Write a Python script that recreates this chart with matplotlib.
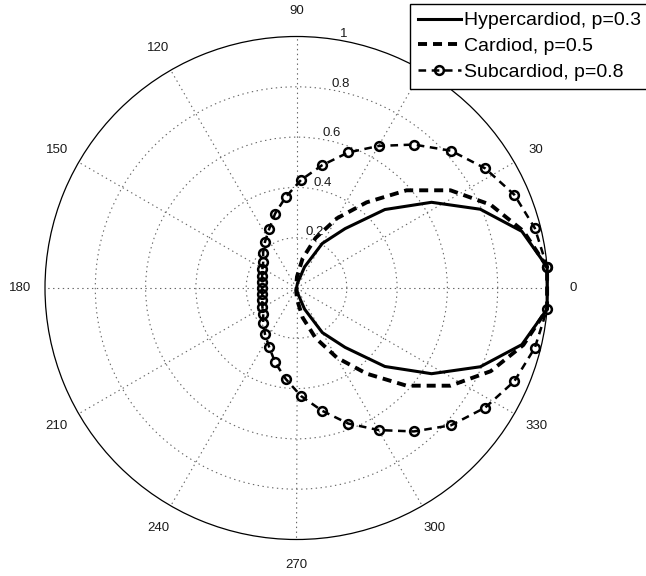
import numpy as np
import matplotlib.pyplot as plt

plt.rcParams['font.family'] = ['Liberation Sans', 'DejaVu Sans']
plt.rcParams['lines.scale_dashes'] = False

# sample angles in degrees
theta_deg = [4.8, 14.1, 23.2, 32.4, 41.6, 50.7, 59.9, 69.1, 78.3, 87.6,
             96.8, 106.0, 115.0, 124.4, 133.4, 142.0, 151.0, 160.5, 170.0, 180.0,
             190.0, 199.5, 209.0, 218.0, 226.6, 235.6, 245.0, 254.0, 263.2, 272.4,
             281.7, 290.9, 300.1, 309.3, 318.4, 327.6, 336.8, 345.9, 355.2]

r_hyper = [1.0, 0.924, 0.795, 0.636, 0.470, 0.305, 0.205, 0.09, 0.02, 0.0,
           0.0, 0.0, 0.0, 0.0, 0.0, 0.0, 0.0, 0.0, 0.0, 0.0,
           0.0, 0.0, 0.0, 0.0, 0.0, 0.0, 0.0, 0.0, 0.0, 0.0,
           0.02, 0.09, 0.205, 0.305, 0.470, 0.636, 0.795, 0.924, 1.0]

r_card = [1.0, 0.93, 0.84, 0.725, 0.585, 0.44, 0.32, 0.213, 0.12, 0.045,
          0.01, 0.0, 0.0, 0.0, 0.0, 0.0, 0.0, 0.0, 0.0, 0.0,
          0.0, 0.0, 0.0, 0.0, 0.0, 0.0, 0.0, 0.0, 0.01, 0.045,
          0.12, 0.213, 0.32, 0.44, 0.585, 0.725, 0.84, 0.93, 1.0]

r_sub = [1.0, 0.977, 0.942, 0.888, 0.822, 0.737, 0.653, 0.577, 0.498, 0.430,
         0.364, 0.308, 0.258, 0.222, 0.193, 0.168, 0.155, 0.145, 0.138, 0.137,
         0.138, 0.145, 0.155, 0.168, 0.193, 0.222, 0.258, 0.308, 0.364, 0.430,
         0.498, 0.577, 0.653, 0.737, 0.822, 0.888, 0.942, 0.977, 1.0]

labels = ["Hypercardiod, p=0.3", "Cardiod, p=0.5", "Subcardiod, p=0.8"]
ring_vals = [0.2, 0.4, 0.6, 0.8, 1.0]
ring_text = ["0.2", "0.4", "0.6", "0.8", "1"]
spoke_vals = list(range(0, 360, 30))


def closed(vals):
    return list(vals) + [vals[0]]


th = np.deg2rad(closed(theta_deg))

fig = plt.figure(figsize=(6.46, 5.76), dpi=100)
ax = fig.add_axes([45 / 646, 36.5 / 576, 503 / 646, 503 / 576], projection='polar')

ax.plot(th, closed(r_hyper), color='black', lw=2.2, label=labels[0], clip_on=False, zorder=3)
ax.plot(th, closed(r_card), color='black', lw=2.8, dashes=(6.5, 4.3), label=labels[1],
        clip_on=False, zorder=3)
ax.plot(th, closed(r_sub), color='black', lw=1.8, dashes=(5.5, 4.0), marker='o', ms=6.3,
        mew=1.8, mfc='none', mec='black', label=labels[2], clip_on=False, zorder=3)

ax.set_ylim(0, 1)
ax.set_yticks(ring_vals[:-1])
ax.set_yticklabels([])
ax.set_xticks(np.deg2rad(spoke_vals))
ax.set_xticklabels([])
ax.grid(True, linestyle=(0, (1, 2.5)), color='0.4', linewidth=0.8)
ax.spines['polar'].set_linewidth(0.9)
ax.spines['polar'].set_color('black')

for a in spoke_vals:
    ax.text(np.deg2rad(a), 1.1, str(a), ha='center', va='center', fontsize=9.5,
            color='0.1', clip_on=False)
for v, t in zip(ring_vals, ring_text):
    ax.text(np.deg2rad(80), v, t, ha='left', va='bottom', fontsize=9.5, color='0.1',
            clip_on=False)

leg = fig.legend(loc='upper left', bbox_to_anchor=(410 / 646, 1 - 4 / 576),
                 fontsize=14, frameon=True, fancybox=False, framealpha=1,
                 edgecolor='black', borderpad=0.4, labelspacing=0.42,
                 handlelength=2.2, handletextpad=0.2, borderaxespad=0)
leg.get_frame().set_linewidth(1.0)

fig.savefig('out.png', dpi=100)
